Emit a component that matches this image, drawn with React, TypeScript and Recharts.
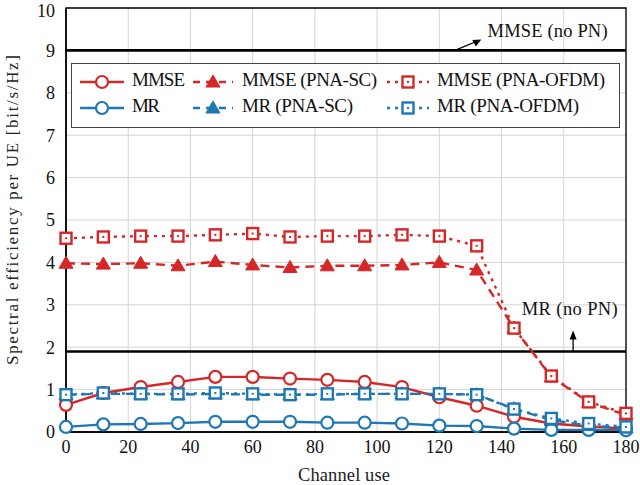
import React from 'react'
import {LineChart, Line, XAxis, YAxis, CartesianGrid, ReferenceLine, ReferenceArea, Label} from 'recharts'

const RED = '#d62728'
const BLUE = '#1f77b4'
const FONT = '"Liberation Serif", "DejaVu Serif", serif'

const channelUse = [0, 12, 24, 36, 48, 60, 72, 84, 96, 108, 120, 132, 144, 156, 168, 180]
const mmse = [0.64, 0.92, 1.06, 1.18, 1.3, 1.3, 1.26, 1.23, 1.18, 1.06, 0.82, 0.62, 0.36, 0.2, 0.13, 0.08]
const mmsePnaSc = [3.98, 3.96, 3.98, 3.92, 4.02, 3.94, 3.88, 3.92, 3.92, 3.94, 4.0, 3.82, 2.45, 1.3, 0.7, 0.4]
const mmsePnaOfdm = [4.57, 4.6, 4.62, 4.62, 4.65, 4.68, 4.6, 4.62, 4.62, 4.65, 4.62, 4.39, 2.45, 1.32, 0.71, 0.44]
const mr = [0.12, 0.18, 0.19, 0.21, 0.24, 0.24, 0.24, 0.22, 0.22, 0.2, 0.15, 0.14, 0.08, 0.05, 0.05, 0.04]
const mrPnaSc = [0.88, 0.9, 0.9, 0.88, 0.9, 0.88, 0.88, 0.88, 0.9, 0.9, 0.9, 0.88, 0.55, 0.28, 0.15, 0.1]
const mrPnaOfdm = [0.88, 0.92, 0.9, 0.9, 0.92, 0.9, 0.88, 0.9, 0.9, 0.9, 0.9, 0.88, 0.54, 0.32, 0.2, 0.12]

const xTicks = [0, 20, 40, 60, 80, 100, 120, 140, 160, 180]
const yTicks = [0, 1, 2, 3, 4, 5, 6, 7, 8, 9, 10]
const mmseNoPn = 9
const mrNoPn = 1.9

const data = channelUse.map((x, i) => ({
  x,
  mmse: mmse[i],
  mmsePnaSc: mmsePnaSc[i],
  mmsePnaOfdm: mmsePnaOfdm[i],
  mr: mr[i],
  mrPnaSc: mrPnaSc[i],
  mrPnaOfdm: mrPnaOfdm[i],
}))

type Mark = 'circle' | 'triangle' | 'square'

const series: {key: string; name: string; color: string; dash?: string; mark: Mark}[] = [
  {key: 'mmse', name: 'MMSE', color: RED, mark: 'circle'},
  {key: 'mmsePnaSc', name: 'MMSE (PNA-SC)', color: RED, dash: '9 6', mark: 'triangle'},
  {key: 'mmsePnaOfdm', name: 'MMSE (PNA-OFDM)', color: RED, dash: '3 5', mark: 'square'},
  {key: 'mr', name: 'MR', color: BLUE, mark: 'circle'},
  {key: 'mrPnaSc', name: 'MR (PNA-SC)', color: BLUE, dash: '9 6', mark: 'triangle'},
  {key: 'mrPnaOfdm', name: 'MR (PNA-OFDM)', color: BLUE, dash: '3 5', mark: 'square'},
]

// legend layout (px, relative to the legend box)
const legendCols = [9, 122, 316]
const legendTextCols = [61, 171, 366]
const legendSampleWidth = [44, 40, 42]
const legendRows = [19, 45]
const legendTextWidths = [53, 135, 168, 28, 111, 142]

function Marker({cx, cy, color, mark}: {cx: number; cy: number; color: string; mark: Mark}) {
  if (mark === 'circle') {
    return <circle cx={cx} cy={cy} r={6} fill="#fff" stroke={color} strokeWidth={2.2} />
  }
  if (mark === 'triangle') {
    return (
      <polygon
        points={`${cx},${cy - 7} ${cx - 7},${cy + 5} ${cx + 7},${cy + 5}`}
        fill={color}
        stroke={color}
        strokeWidth={1}
      />
    )
  }
  return (
    <g>
      <rect x={cx - 5.5} y={cy - 5.5} width={11} height={11} fill="#fff" stroke={color} strokeWidth={2.4} />
      <rect x={cx - 1} y={cy - 1} width={2} height={2} fill={color} />
    </g>
  )
}

function makeDot(color: string, mark: Mark) {
  return (props: any) => {
    const {cx, cy, index} = props
    if (cx == null || cy == null) return <g key={index} />
    return <Marker key={index} cx={cx} cy={cy} color={color} mark={mark} />
  }
}

function MmseNote(props: any) {
  const vb = props.viewBox || {}
  const x0 = vb.x + (vb.width * 125) / 180
  const y0 = vb.y
  const x1 = vb.x + (vb.width * 133.5) / 180
  const y1 = vb.y - 11
  const tx = vb.x + (vb.width * 135.5) / 180
  return (
    <g>
      <line x1={x0} y1={y0} x2={x1 - 5} y2={y1 + 2.1} stroke="#000" strokeWidth={1.3} />
      <polygon points={`${x1},${y1} ${x1 - 9},${y1 + 0.5} ${x1 - 5.5},${y1 + 7}`} fill="#000" />
      <text x={tx} y={y1 - 7} fontFamily={FONT} fontSize={18.5} textLength={120} lengthAdjust="spacing" dominantBaseline="middle" fill="#111">
        MMSE (no PN)
      </text>
    </g>
  )
}

function MrNote(props: any) {
  const vb = props.viewBox || {}
  const ax = vb.x + (vb.width * 163) / 180
  const y0 = vb.y
  const y1 = vb.y - 21
  const tx = vb.x + (vb.width * 146.5) / 180
  return (
    <g>
      <line x1={ax} y1={y0} x2={ax} y2={y1 + 6} stroke="#000" strokeWidth={1.3} />
      <polygon points={`${ax},${y1} ${ax - 3.5},${y1 + 9} ${ax + 3.5},${y1 + 9}`} fill="#000" />
      <text x={tx} y={y1 - 20} fontFamily={FONT} fontSize={18.5} textLength={96} lengthAdjust="spacing" dominantBaseline="middle" fill="#111">
        MR (no PN)
      </text>
    </g>
  )
}

function YTitle(props: any) {
  const vb = props.viewBox || {}
  const cy = vb.y + vb.height / 2 - 10
  const cx = 14
  return (
    <text
      x={cx}
      y={cy}
      transform={`rotate(-90, ${cx}, ${cy})`}
      textAnchor="middle"
      dominantBaseline="middle"
      fontFamily={FONT}
      fontSize={17}
      textLength={310}
      lengthAdjust="spacing"
      fill="#222"
    >
      Spectral efficiency per UE [bit/s/Hz]
    </text>
  )
}

function XTitle(props: any) {
  const vb = props.viewBox || {}
  const cx = vb.x + vb.width / 2 - 2
  return (
    <text
      x={cx}
      y={477}
      textAnchor="middle"
      dominantBaseline="middle"
      fontFamily={FONT}
      fontSize={18.5}
      textLength={92}
      lengthAdjust="spacing"
      fill="#222"
    >
      Channel use
    </text>
  )
}

function LegendBox() {
  return (
    <svg width={549} height={65} style={{position: 'absolute', left: 71, top: 63}}>
      <rect x={0.5} y={0.5} width={548} height={64} fill="#fff" stroke="#444" strokeWidth={1} />
      {series.map((s, i) => {
        const row = i < 3 ? 0 : 1
        const col = i % 3
        const x0 = legendCols[col]
        const w = legendSampleWidth[col]
        const y = legendRows[row]
        return (
          <g key={s.key}>
            <line
              x1={x0}
              y1={y}
              x2={x0 + w}
              y2={y}
              stroke={s.color}
              strokeWidth={2.4}
              strokeDasharray={s.dash ? (s.mark === 'triangle' ? '7 6' : '3 5') : undefined}
            />
            <Marker cx={x0 + w / 2} cy={y} color={s.color} mark={s.mark} />
            <text
              x={legendTextCols[col]}
              y={y}
              fontFamily={FONT}
              fontSize={19}
              textLength={legendTextWidths[i]}
              lengthAdjust="spacing"
              dominantBaseline="middle"
              fill="#111"
            >
              {s.name}
            </text>
          </g>
        )
      })}
    </svg>
  )
}

export default function App() {
  return (
    <div style={{position: 'absolute', left: 0, top: 0, width: 640, height: 485, background: '#fff'}}>
      <LineChart width={640} height={485} data={data} margin={{top: 8, right: 14, bottom: 0, left: 0}}>
        <CartesianGrid stroke="#d4d4d4" strokeWidth={1} />
        <XAxis
          dataKey="x"
          type="number"
          domain={[0, 180]}
          ticks={xTicks}
          height={53}
          tickLine={false}
          axisLine={{stroke: '#000', strokeWidth: 1.5}}
          tick={{fontFamily: FONT, fontSize: 18, fill: '#111'}}
          tickMargin={2}
        >
          <Label content={XTitle} />
        </XAxis>
        <YAxis
          type="number"
          domain={[0, 10]}
          ticks={yTicks}
          width={66}
          tickLine={false}
          axisLine={{stroke: '#000', strokeWidth: 1.5}}
          tick={{fontFamily: FONT, fontSize: 18, fill: '#111'}}
          tickMargin={5}
        >
          <Label content={YTitle} />
        </YAxis>
        <ReferenceArea x1={0} x2={180} y1={0} y2={10} fill="none" stroke="#000" strokeWidth={1.3} />
        <ReferenceLine y={mmseNoPn} stroke="#000" strokeWidth={2.6} label={MmseNote} />
        <ReferenceLine y={mrNoPn} stroke="#000" strokeWidth={2.6} label={MrNote} />
        {series.map((s) => (
          <Line
            key={s.key}
            dataKey={s.key}
            name={s.name}
            stroke={s.color}
            strokeWidth={2.4}
            strokeDasharray={s.dash}
            dot={makeDot(s.color, s.mark)}
            activeDot={false}
            isAnimationActive={false}
          />
        ))}
      </LineChart>
      <LegendBox />
    </div>
  )
}
